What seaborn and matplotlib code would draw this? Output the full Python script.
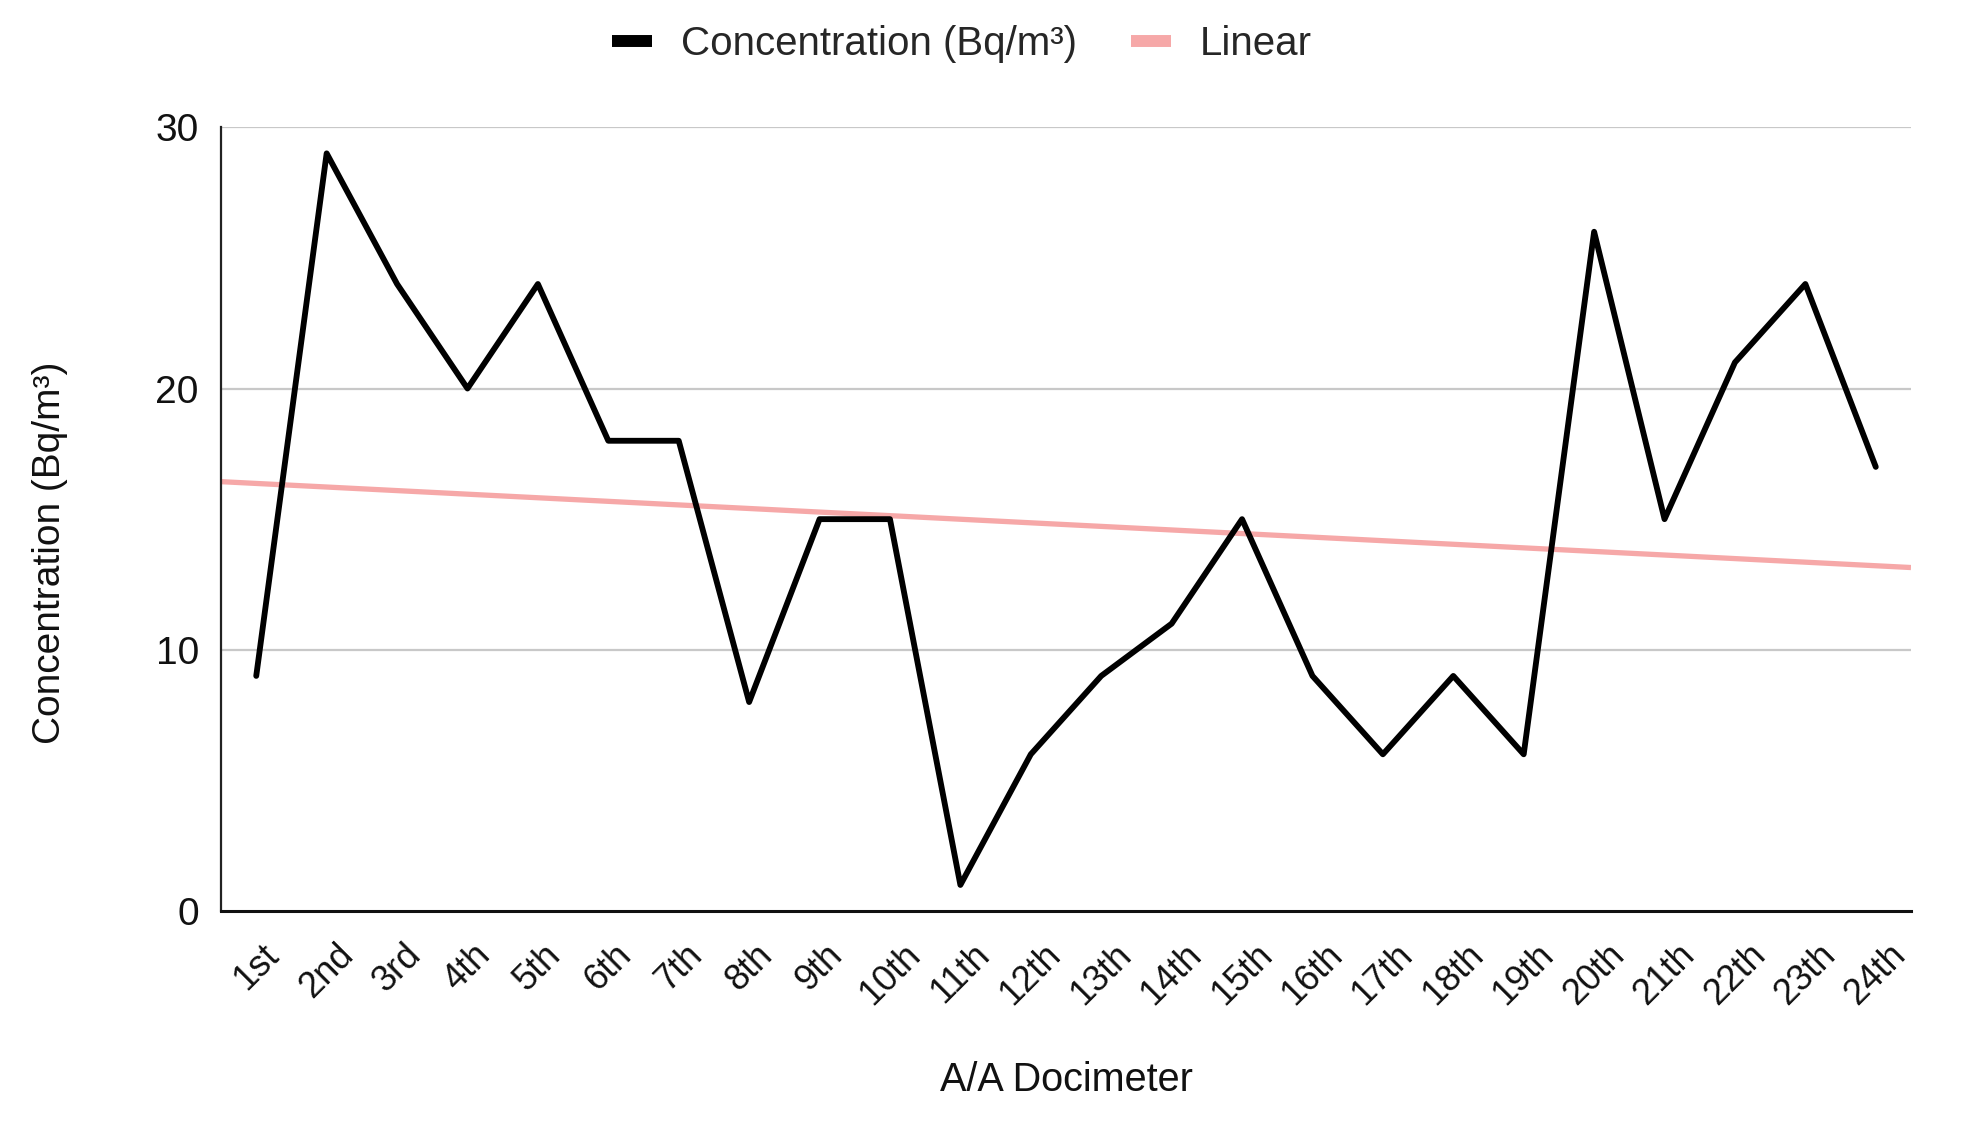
import numpy as np
import pandas as pd
import matplotlib.pyplot as plt
import seaborn as sns
from matplotlib.lines import Line2D

docimeters = ["1st", "2nd", "3rd", "4th", "5th", "6th", "7th", "8th", "9th", "10th",
              "11th", "12th", "13th", "14th", "15th", "16th", "17th", "18th", "19th", "20th",
              "21th", "22th", "23th", "24th"]
concentration = [9, 29, 24, 20, 24, 18, 18, 8, 15, 15, 1, 6, 9, 11, 15, 9, 6, 9, 6, 26,
                 15, 21, 24, 17]
y_ticks = [0, 10, 20, 30]

sns.set_theme(style="white")
plt.rcParams["font.family"] = ["Liberation Sans", "DejaVu Sans"]

df = pd.DataFrame({"idx": np.arange(len(docimeters)), "conc": concentration})

fig = plt.figure(figsize=(19.63, 11.36), dpi=100)
ax = fig.add_axes([0.1126, 0.198, 0.8609, 0.690])

ax.set_xlim(-0.5, len(docimeters) - 0.5)
ax.set_ylim(0, 30)

# gridlines at 10, 20, 30
for v in y_ticks[1:]:
    ax.axhline(v, color="#c8c8c8", lw=1.6, zorder=0)

# linear trend over the full axis width
sns.regplot(data=df, x="idx", y="conc", scatter=False, ci=None, truncate=False,
            color="#f6a8a8", line_kws={"lw": 3.8, "solid_capstyle": "butt"}, ax=ax)

sns.lineplot(data=df, x="idx", y="conc", color="black", lw=4.2, ax=ax)

ax.set_xticks(df["idx"])
ax.set_xticklabels(docimeters, rotation=45, ha="center", fontsize=26, color="#111111")
ax.set_yticks(y_ticks)
ax.set_yticklabels([str(v) for v in y_ticks], fontsize=28, color="#111111")
ax.tick_params(axis="x", length=0, pad=19)
ax.tick_params(axis="y", length=0, pad=16)

for s in ["top", "right"]:
    ax.spines[s].set_visible(False)
ax.spines["bottom"].set_color("#111111")
ax.spines["bottom"].set_linewidth(2.2)
ax.spines["left"].set_color("#222222")
ax.spines["left"].set_linewidth(1.6)

ax.set_xlabel("A/A Docimeter", fontsize=28.5, color="#111111", va="center")
ax.xaxis.set_label_coords(0.5, -0.2156)
ax.set_ylabel("Concentration (Bq/m³)", fontsize=28, color="#111111", va="center")
ax.yaxis.set_label_coords(-0.101, 0.457)

handles = [Line2D([0], [0], color="black", lw=8.6, solid_capstyle="butt"),
           Line2D([0], [0], color="#f6a8a8", lw=8.6, solid_capstyle="butt")]
fig.legend(handles, ["Concentration (Bq/m³)", "Linear"], loc="center",
           bbox_to_anchor=(0.49, 1 - 44 / 1136), ncol=2, frameon=False, fontsize=29,
           handlelength=1.0, handletextpad=0.7, columnspacing=1.35)

fig.savefig("out.png", dpi=100)
